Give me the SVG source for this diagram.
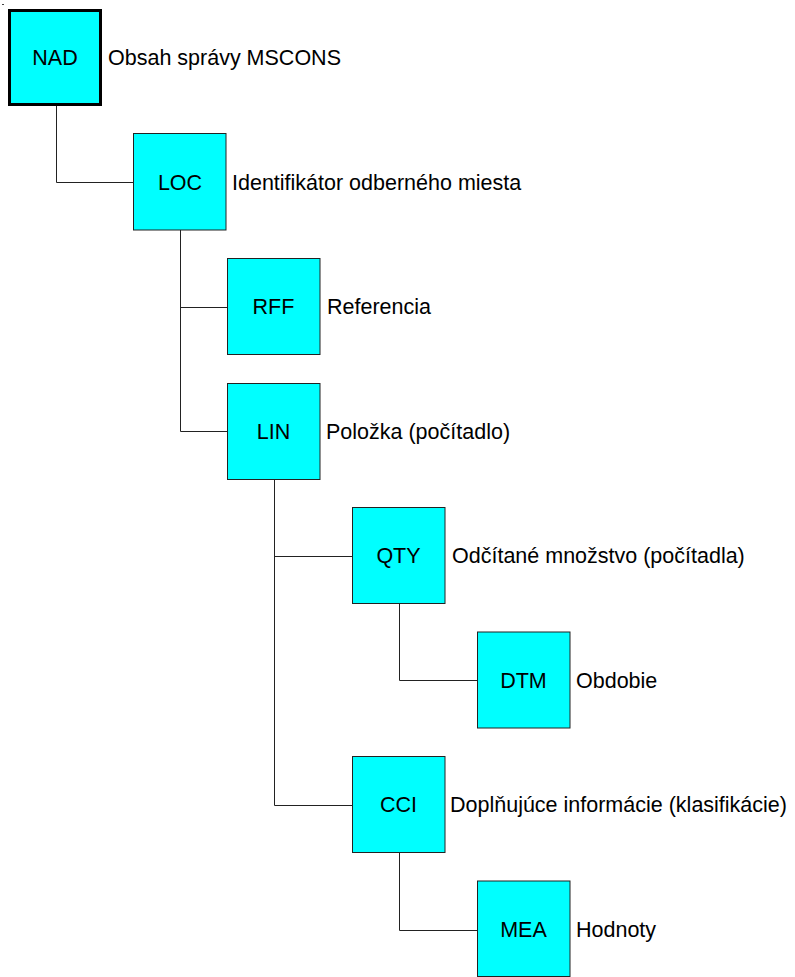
<svg xmlns="http://www.w3.org/2000/svg" width="795" height="977" viewBox="0 0 795 977">
<style>
.box{fill:#00ffff;stroke:#222;stroke-width:1}
.nad{fill:#00ffff;stroke:#000;stroke-width:3}
.t{font-family:"Liberation Sans",Arial,sans-serif;font-size:21.5px;fill:#000}
.c{text-anchor:middle}
.ln{fill:none;stroke:#222;stroke-width:1}
</style>
<rect x="2" y="4" width="2" height="1" fill="#444"/>
<g id="connectors">
<path class="ln" d="M56.5 106 V182.5 H133"/>
<path class="ln" d="M180.5 230 V431.5 H227 M180.5 307.5 H227"/>
<path class="ln" d="M274.5 479 V805.5 H352 M274.5 556.5 H352"/>
<path class="ln" d="M399.5 603 V680.5 H477"/>
<path class="ln" d="M399.5 852 V930.5 H477"/>
</g>
<g id="NAD"><rect class="nad" x="9.5" y="10.5" width="91" height="94"/><text class="t c" x="55" y="65">NAD</text><text class="t" x="108" y="65">Obsah správy MSCONS</text></g>
<g id="LOC"><rect class="box" x="133.5" y="133.5" width="92.5" height="96.5"/><text class="t c" x="180" y="190">LOC</text><text class="t" x="232" y="190">Identifikátor odberného miesta</text></g>
<g id="RFF"><rect class="box" x="227.5" y="258.5" width="92.5" height="96"/><text class="t c" x="273.5" y="314">RFF</text><text class="t" x="327" y="314">Referencia</text></g>
<g id="LIN"><rect class="box" x="227.5" y="383.5" width="92.5" height="96"/><text class="t c" x="273.5" y="439">LIN</text><text class="t" x="326" y="439">Položka (počítadlo)</text></g>
<g id="QTY"><rect class="box" x="352.5" y="507.5" width="92.5" height="96"/><text class="t c" x="398.5" y="563">QTY</text><text class="t" x="452" y="563">Odčítané množstvo (počítadla)</text></g>
<g id="DTM"><rect class="box" x="477.5" y="632" width="92.5" height="96"/><text class="t c" x="523.5" y="688">DTM</text><text class="t" x="576" y="688">Obdobie</text></g>
<g id="CCI"><rect class="box" x="352.5" y="756.5" width="92.5" height="96"/><text class="t c" x="398.5" y="812">CCI</text><text class="t" x="450" y="812">Doplňujúce informácie (klasifikácie)</text></g>
<g id="MEA"><rect class="box" x="477.5" y="881" width="92.5" height="95.5"/><text class="t c" x="523.5" y="937">MEA</text><text class="t" x="576" y="937">Hodnoty</text></g>
</svg>
